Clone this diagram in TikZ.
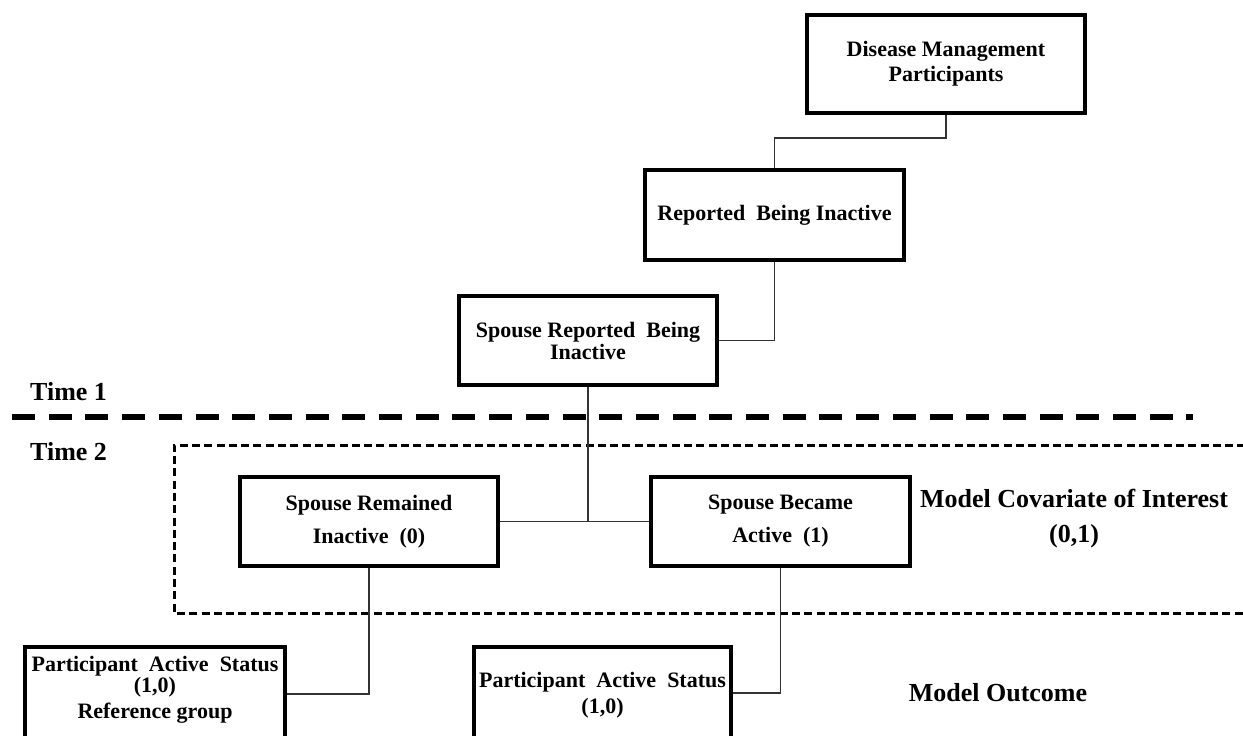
\documentclass[tikz,border=0pt]{standalone}
\usepackage{fontspec}
\setmainfont{Liberation Serif}
\newcommand{\boxfnt}{\fontsize{22}{25}\selectfont\bfseries}
\newcommand{\lblfnt}{\fontsize{26}{30}\selectfont\bfseries}
\begin{document}
\begin{tikzpicture}[x=1pt,y=-1pt,
  box/.style={draw=black, line width=4.5pt, fill=white, inner sep=0pt, align=center, font=\boxfnt},
  boxtext/.style={inner sep=0pt, align=center, font=\boxfnt},
  lbl/.style={inner sep=0pt, align=center, font=\lblfnt},
  conn/.style={draw=black!80, line width=1.6pt},
  timeline/.style={draw=black, line width=5.5pt, dash pattern=on 23pt off 13.7pt},
  zone/.style={draw=black, line width=3pt, dash pattern=on 8pt off 4.3pt}
]
\useasboundingbox (0,0) rectangle (1243,736);

% dividers
\coordinate (tl1) at (12,417);
\coordinate (tl2) at (1193,417);
\draw[timeline] (tl1) -- (tl2);
\coordinate (z1) at (1270,445);
\coordinate (z2) at (174,613);
\coordinate (z3) at (1270,613);
\draw[zone] (z1) -| (z2) -- (z3);

% labels
\node[lbl, anchor=west] (time1) at (30,392) {Time 1};
\node[lbl, anchor=west] (time2) at (30,452) {Time 2};
\node[lbl] (cov) at (1074,519) {Model Covariate of Interest\\[5pt](0,1)};
\node[lbl] (out) at (998,693) {Model Outcome};

% boxes
\node[box, minimum width=278pt, minimum height=98pt] (b1) at (946,64) {Disease Management\\Participants};
\node[box, minimum width=259pt, minimum height=90pt] (b2) at (774.5,215) {Reported\ \ Being Inactive};
\node[box, minimum width=258pt, minimum height=89pt] (b3) at (588,340.5) {Spouse Reported\ \ Being\\[-3pt]Inactive};
\node[box, minimum width=258pt, minimum height=89pt] (b4) at (369,521.5) {Spouse Remained\\[8pt]Inactive\ \ (0)};
\node[box, minimum width=259pt, minimum height=89pt] (b5) at (780.5,521.5) {Spouse Became\\[8pt]Active\ \ (1)};
\node[box, minimum width=260pt, minimum height=121pt] (b6) at (155,707.5) {};
\node[boxtext] (t6) at (155,690) {Participant\ \ Active\ \ Status\\[-4pt](1,0)\\[1pt]Reference group};
\node[box, minimum width=257pt, minimum height=121pt] (b7) at (602.5,707.5) {};
\node[boxtext] (t7) at (602.5,695) {Participant\ \ Active\ \ Status\\[1pt](1,0)};

% connectors
\draw[conn] (b1.south) -- ++(0,23) -| (b2.north);
\draw[conn] (b2.south) |- (b3.east);
\draw[conn] (b3.south) -- (b3.south |- b4.east);
\draw[conn] (b4.east) -- (b5.west);
\coordinate (c6) at (0,694);
\coordinate (c7) at (0,693);
\draw[conn] (b4.south) |- (b6.east |- c6);
\draw[conn] (b5.south) |- (b7.east |- c7);
\end{tikzpicture}
\end{document}
